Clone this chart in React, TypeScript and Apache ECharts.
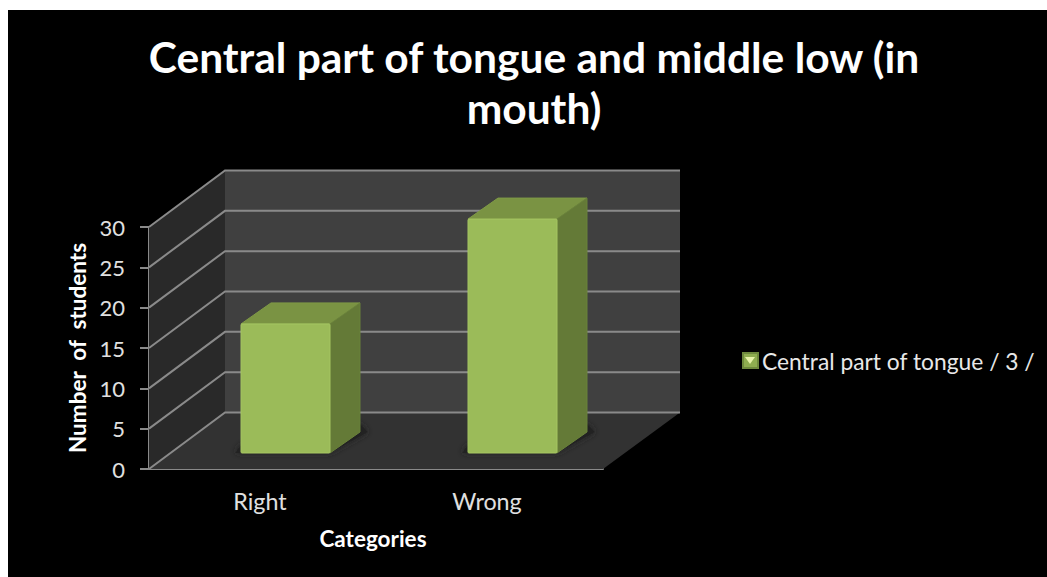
import React, { useEffect, useRef } from "react";
import * as echarts from "echarts";

const titleLines = ["Central part of tongue and middle low (in", "mouth)"];
const categories = ["Right", "Wrong"];
const seriesName = "Central part of tongue / 3 /";
const seriesValues = [16, 29];
const yTicks = [0, 5, 10, 15, 20, 25, 30];
const yAxisTitle = "Number  of  students";
const xAxisTitle = "Categories";

const FONT = "Lato, Carlito, 'Open Sans', sans-serif";
const DEPTH_X = 76;
const DEPTH_Y = -56.5;
const BAR_OFF_X = 23;
const BAR_OFF_Y = -16;
const BAR_DX = 30;
const BAR_DY = -21;
const LINE = "#8a8a8a";

export default function App() {
  const ref = useRef<HTMLDivElement>(null);
  useEffect(() => {
    const chart = echarts.init(ref.current!, null, { renderer: "svg" });

    const renderWall = (params: any, api: any) => {
      const cs = params.coordSys;
      const v = api.value(1);
      const y = api.coord([0, v])[1];
      const x0 = cs.x;
      const x1 = cs.x + cs.width;
      const bottom = cs.y + cs.height;
      const children: any[] = [];
      if (params.dataIndex === 0) {
        const bx = x0 + DEPTH_X;
        const top = cs.y + DEPTH_Y;
        const bb = bottom + DEPTH_Y;
        const rx = x1 + DEPTH_X + 1;
        children.push(
          { type: "polygon", shape: { points: [[bx, top], [rx, top], [rx, bb], [bx, bb]] }, style: { fill: "#404040" } },
          { type: "polygon", shape: { points: [[x0, cs.y], [bx, top], [bx, bb], [x0, bottom]] }, style: { fill: "#292929" } },
          { type: "polygon", shape: { points: [[x0, bottom], [bx, bb], [rx, bb], [x1, bottom]] }, style: { fill: "#323232" } },
        );
      }
      children.push({
        type: "polyline",
        shape: { points: [[x0, y], [x0 + DEPTH_X, y + DEPTH_Y], [x1 + DEPTH_X + 1, y + DEPTH_Y]] },
        style: { stroke: LINE, lineWidth: 2, fill: "none" },
      });
      return { type: "group", children };
    };

    const renderBar = (params: any, api: any) => {
      const idx = api.value(0);
      const top = api.coord([idx, api.value(1)]);
      const base = api.coord([idx, 0]);
      const w = api.size([1, 0])[0] * 0.392;
      const l = top[0] - w / 2 + BAR_OFF_X;
      const r = l + w;
      const t = top[1] + BAR_OFF_Y;
      const b = base[1] + BAR_OFF_Y;
      const edge = { lineJoin: "round", lineWidth: 1 };
      return {
        type: "group",
        children: [
          {
            type: "polygon",
            shape: { points: [[l - 6, b], [r, b], [r + BAR_DX + 8, b + BAR_DY], [r + BAR_DX, b + BAR_DY - 8], [l, b - 8]] },
            style: { fill: "#242424", shadowBlur: 6, shadowColor: "#222222" },
          },
          {
            type: "polygon",
            shape: { points: [[l, t], [l + BAR_DX, t + BAR_DY], [r + BAR_DX, t + BAR_DY], [r, t]] },
            style: { fill: "#7a9343", stroke: "#7f9a46", ...edge },
          },
          {
            type: "polygon",
            shape: { points: [[r, t], [r + BAR_DX, t + BAR_DY], [r + BAR_DX, b + BAR_DY], [r, b]] },
            style: { fill: "#647a37", stroke: "#6a823b", ...edge },
          },
          {
            type: "rect",
            shape: { x: l, y: t, width: w, height: b - t, r: 1 },
            style: { fill: "#9bbb59", stroke: "#a6c663", ...edge },
          },
        ],
      };
    };

    chart.setOption({
      animation: false,
      backgroundColor: "#ffffff",
      title: {
        text: titleLines.join("\n"),
        left: 529,
        top: 26,
        textAlign: "center",
        textStyle: { color: "#ffffff", fontFamily: FONT, fontWeight: "bold", fontSize: 42.5, lineHeight: 51 },
      },
      grid: { left: 149, top: 227, width: 454, height: 242 },
      legend: {
        data: [{ name: seriesName, icon: "rect" }],
        left: 737,
        top: 344,
        itemWidth: 15,
        itemHeight: 15,
        itemGap: 0,
        selectedMode: false,
        textStyle: { color: "#e8e8e8", fontFamily: FONT, fontSize: 22.8, padding: [0, 0, 0, -1] },
      },
      xAxis: {
        type: "category",
        data: categories,
        name: xAxisTitle,
        nameLocation: "middle",
        nameGap: 58,
        nameTextStyle: { color: "#ffffff", fontFamily: FONT, fontWeight: "bold", fontSize: 22.5, padding: [0, 6, 0, 0] },
        axisLine: { show: true, lineStyle: { color: LINE, width: 2 } },
        axisTick: { show: false },
        axisLabel: { color: "#e0e0e0", fontFamily: FONT, fontSize: 23.3, margin: 20, padding: [0, 5, 0, 0] },
      },
      yAxis: {
        type: "value",
        min: 0,
        max: 30,
        interval: 5,
        name: yAxisTitle,
        nameLocation: "middle",
        nameGap: 60,
        nameRotate: 90,
        nameTextStyle: { color: "#ffffff", fontFamily: FONT, fontWeight: "bold", fontSize: 22.5 },
        axisLine: { show: true, lineStyle: { color: LINE, width: 2 } },
        axisTick: { show: true, length: 9, lineStyle: { color: LINE, width: 2 } },
        axisLabel: { color: "#e0e0e0", fontFamily: FONT, fontSize: 22, margin: 24 },
        splitLine: { show: false },
      },
      series: [
        {
          type: "custom",
          name: "walls",
          silent: true,
          z: 1,
          renderItem: renderWall,
          data: yTicks.map((t) => [0, t]),
        },
        {
          type: "custom",
          name: seriesName,
          z: 3,
          renderItem: renderBar,
          encode: { x: 0, y: 1 },
          itemStyle: { color: "#8fad50", borderColor: "#6f8a3d", borderWidth: 1 },
          data: seriesValues.map((v, i) => [i, v]),
        },
      ],
      graphic: [
        { type: "rect", z: -10, silent: true, shape: { x: 8, y: 10, width: 1039, height: 567 }, style: { fill: "#000000" } },
        { type: "polygon", z: 100, silent: true, shape: { points: [[745, 357], [755, 357], [750, 364]] }, style: { fill: "#e6f2a8" } },
      ],
    });
    return () => chart.dispose();
  }, []);
  return <div ref={ref} style={{ position: "fixed", left: 0, top: 0, width: 1047, height: 577 }} />;
}
